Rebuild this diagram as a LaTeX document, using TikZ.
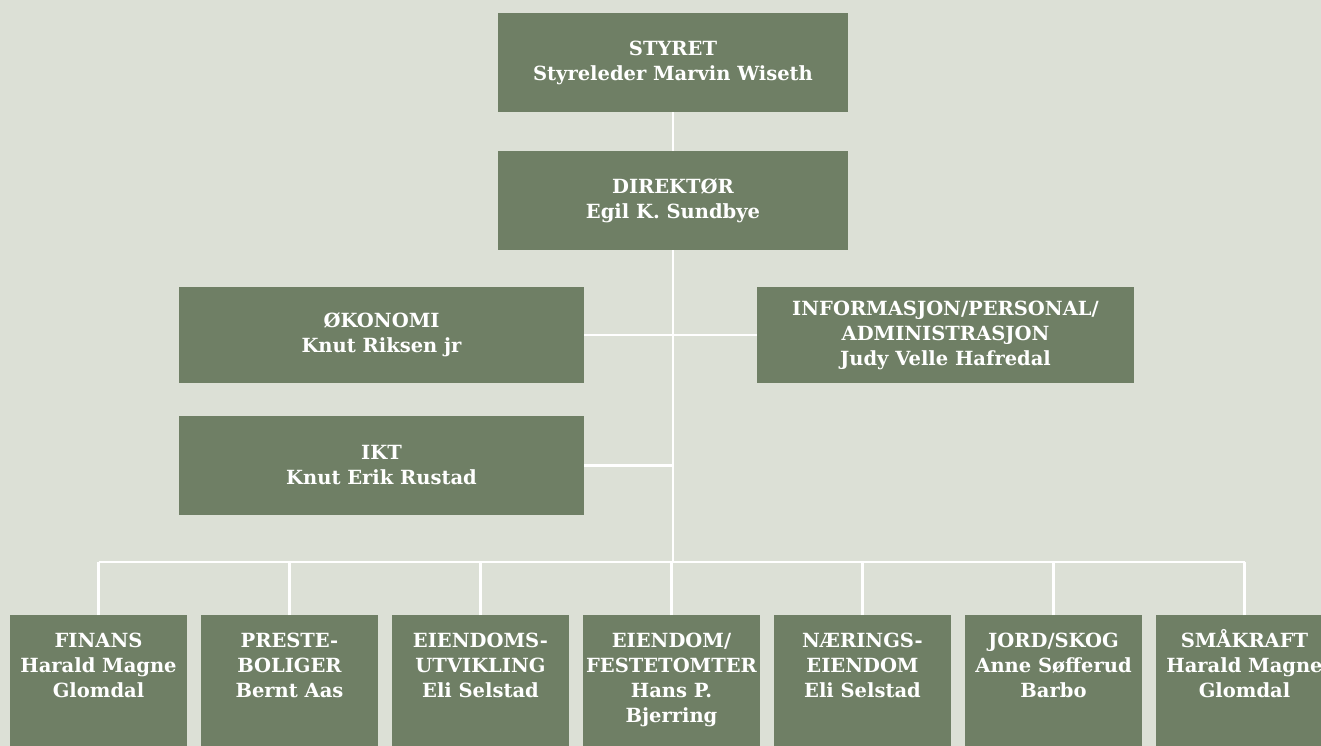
\documentclass[tikz,border=0pt]{standalone}
\usepackage{fontspec}
\setmainfont{DejaVu Serif}
\definecolor{chartbg}{RGB}{220,224,214}
\definecolor{boxgreen}{RGB}{111,127,101}

\begin{document}
\begin{tikzpicture}[x=0.02cm,y=-0.02cm,
    chartfont/.style={font=\bfseries\fontsize{11.1}{14.2}\selectfont},
    box/.style={fill=boxgreen, text=white, chartfont, align=center, inner sep=0pt},
    topbox/.style={box, minimum width=7cm, minimum height=1.98cm},
    sidebox/.style={box, minimum height=1.94cm},
    unitbox/.style={box, anchor=north, minimum width=3.54cm, minimum height=3cm},
    unittext/.style={text=white, chartfont, align=center, anchor=north, inner sep=0pt,
        execute at begin node=\rule{0pt}{11.5pt}},
    link/.style={draw=white, line width=1.2pt}]

    % Background and frame
    \fill[chartbg] (0,0) rectangle (1321,746);
    \useasboundingbox (0,0) rectangle (1321,746);
    \clip (0,0) rectangle (1321,746);

    % Board and director
    \node[topbox] (styret) at (673,62.5) {STYRET\\Styreleder Marvin Wiseth};
    \node[topbox] (direktor) at (673,200.5) {DIREKTØR\\Egil K. Sundbye};

    % Staff units
    \node[sidebox, minimum width=8.1cm] (okonomi) at (381.5,335) {ØKONOMI\\Knut Riksen jr};
    \node[sidebox, minimum width=7.54cm] (info) at (945.5,335)
        {INFORMASJON/PERSONAL/\\ADMINISTRASJON\\Judy Velle Hafredal};
    \node[sidebox, minimum width=8.1cm, minimum height=1.98cm] (ikt) at (381.5,465.5)
        {IKT\\Knut Erik Rustad};

    % Bus line for the business units
    \coordinate (bus) at (673,562);

    % Business units
    \foreach \name/\txt [count=\i from 0] in {
        finans/{FINANS\\Harald Magne\\Glomdal},
        preste/{PRESTE-\\BOLIGER\\Bernt Aas},
        utvikling/{EIENDOMS-\\UTVIKLING\\Eli Selstad},
        feste/{EIENDOM/\\FESTETOMTER\\Hans P.\\Bjerring},
        naering/{NÆRINGS-\\EIENDOM\\Eli Selstad},
        jord/{JORD/SKOG\\Anne Søfferud\\Barbo},
        smakraft/{SM\smash{Å}KRAFT\\Harald Magne\\Glomdal}} {
        \node[unitbox] (\name) at (98.5+191*\i,615) {};
        \node[unittext] (\name-txt) at ([yshift=-10pt]\name.north) {\txt};
        \draw[link] (\name.north) -- (\name.north |- bus);
    }

    % Connectors
    \draw[link] (styret) -- (direktor);
    \draw[link] (direktor.south) -- (bus);
    \draw[link] (okonomi.east) -- (info.west);
    \draw[link] (ikt.east) -- (ikt.east -| direktor.south);
    \draw[link] (finans.north |- bus) -- (smakraft.north |- bus);

\end{tikzpicture}
\end{document}
